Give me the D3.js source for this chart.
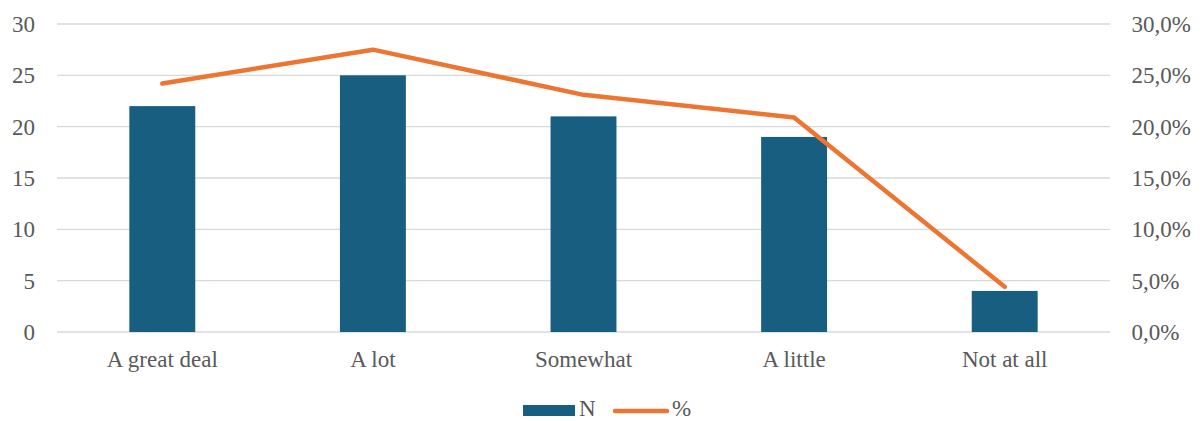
<!DOCTYPE html>
<html>
<head>
<meta charset="utf-8">
<script src="https://cdn.jsdelivr.net/npm/d3@7"></script>
<style>
  html, body { margin: 0; padding: 0; background: #fff; }
  svg text { font-family: "Liberation Serif", "Times New Roman", serif; fill: #595959; }
</style>
</head>
<body>
<svg id="chart" width="1203" height="421"></svg>
<script>
// Responses per category
const categories = ["A great deal", "A lot", "Somewhat", "A little", "Not at all"];
const counts = [22, 25, 21, 19, 4];
const percents = [24.2, 27.5, 23.1, 20.9, 4.4];
const leftTicks = [0, 5, 10, 15, 20, 25, 30];
const rightTicks = [0, 5, 10, 15, 20, 25, 30];
const legendLabels = ["N", "%"];

const svg = d3.select("#chart");
const margin = { left: 57, right: 93, top: 24, bottom: 89 };
const W = 1203, H = 421;
const x0 = margin.left, x1 = W - margin.right;
const y0 = H - margin.bottom, y1 = margin.top;
const FS = "23px";

const x = d3.scaleBand().domain(categories).range([x0, x1]).paddingInner(0.687).paddingOuter(0.3435);
const xc = d3.scaleBand().domain(categories).range([x0, x1]);
const yL = d3.scaleLinear().domain([0, 30]).range([y0, y1]);
const yR = d3.scaleLinear().domain([0, 30]).range([y0, y1]);

const fmtPct = d => d.toFixed(1).replace(".", ",") + "%";

// gridlines
svg.append("g").selectAll("line").data(leftTicks).join("line")
  .attr("x1", x0).attr("x2", x1)
  .attr("y1", d => yL(d)).attr("y2", d => yL(d))
  .attr("stroke", "#d9d9d9").attr("stroke-width", 1.3);

// left axis
const gl = svg.append("g").attr("transform", `translate(${x0},0)`)
  .call(d3.axisLeft(yL).tickValues(leftTicks).tickSize(0).tickPadding(22));
gl.select(".domain").remove();
gl.selectAll("text").style("font-size", FS);

// right axis
const gr = svg.append("g").attr("transform", `translate(${x1},0)`)
  .call(d3.axisRight(yR).tickValues(rightTicks).tickSize(0).tickPadding(21.5).tickFormat(fmtPct));
gr.select(".domain").remove();
gr.selectAll("text").style("font-size", FS);

// bottom axis
const gb = svg.append("g").attr("transform", `translate(0,${y0})`)
  .call(d3.axisBottom(xc).tickSize(0).tickPadding(19));
gb.select(".domain").remove();
gb.selectAll("text").style("font-size", FS);

// bars
svg.append("g").selectAll("rect").data(counts).join("rect")
  .attr("x", (d, i) => x(categories[i]))
  .attr("width", x.bandwidth())
  .attr("y", d => yL(d))
  .attr("height", d => y0 - yL(d))
  .attr("fill", "#175e80");

// percent line
const line = d3.line()
  .x((d, i) => xc(categories[i]) + xc.bandwidth() / 2)
  .y(d => yR(d));
svg.append("path").datum(percents)
  .attr("d", line)
  .attr("fill", "none")
  .attr("stroke", "#ed7532")
  .attr("stroke-width", 4.5)
  .attr("stroke-linejoin", "round")
  .attr("stroke-linecap", "round");

// legend
const lg = svg.append("g");
lg.append("rect").attr("x", 523).attr("y", 405).attr("width", 52).attr("height", 11).attr("fill", "#175e80");
lg.append("text").attr("x", 579).attr("y", 416).style("font-size", FS).text(legendLabels[0]);
lg.append("line").attr("x1", 615).attr("x2", 667).attr("y1", 411).attr("y2", 411)
  .attr("stroke", "#ed7532").attr("stroke-width", 4.5).attr("stroke-linecap", "round");
lg.append("text").attr("x", 672).attr("y", 416).style("font-size", FS).text(legendLabels[1]);
</script>
</body>
</html>
